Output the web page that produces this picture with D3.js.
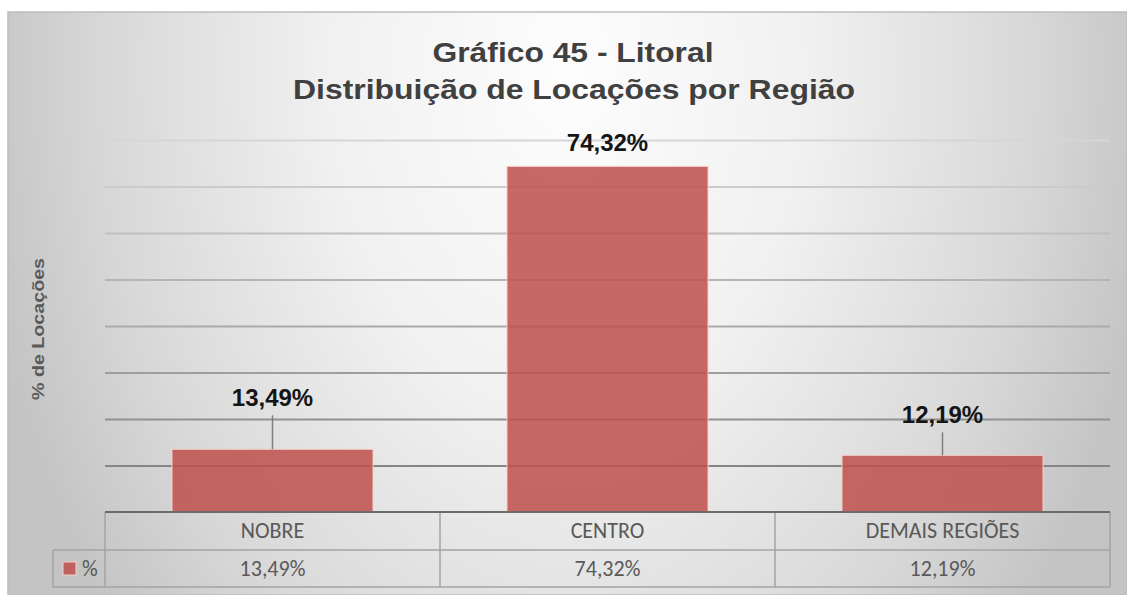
<!DOCTYPE html>
<html lang="pt-BR">
<head>
<meta charset="utf-8">
<title>Gráfico 45 - Litoral</title>
<script src="https://cdn.jsdelivr.net/npm/d3@7"></script>
<style>
  html, body { margin: 0; padding: 0; background: #ffffff; }
  svg { display: block; }
</style>
</head>
<body>
<div id="chart"></div>
<script>
// Chart data
const categories = ["NOBRE", "CENTRO", "DEMAIS REGIÕES"];
const values = [13.49, 74.32, 12.19];
const seriesName = "%";
const yTicks = [0, 10, 20, 30, 40, 50, 60, 70, 80];
const titleLines = ["Gráfico 45 - Litoral", "Distribuição de Locações por Região"];
const yAxisTitle = "% de Locações";

// Layout
const W = 1127, H = 595;
const frame = { x: 8, y: 12, w: W - 8, h: H - 12 };
const plot = { left: 105, right: 1110, top: 140, bottom: 512 };
const tableRows = { header: [512, 550], values: [550, 587] };
const legendCellLeft = 53;
// distance from the top of each bar to the baseline of its value label
const labelGap = [43, 15, 32];

const ptBR = d3.formatLocale({ decimal: ",", thousands: ".", grouping: [3], currency: ["R$", ""] });
const fmt = v => ptBR.format(".2f")(v) + "%";

const svg = d3.select("#chart").append("svg")
  .attr("width", W).attr("height", H)
  .attr("viewBox", `0 0 ${W} ${H}`);

const defs = svg.append("defs");

// soft radial background, bright near the title and greyer toward the sides
const bg = defs.append("radialGradient")
  .attr("id", "bgGrad")
  .attr("cx", 0.5).attr("cy", 0.1).attr("r", 0.53)
  .attr("gradientTransform", "translate(0.5,0.1) scale(1,2.8) translate(-0.5,-0.1)");
[[0, "#fdfdfd"], [0.4, "#f1f1f1"], [0.78, "#d8d8d8"], [1, "#c4c4c4"]]
  .forEach(([o, c]) => bg.append("stop").attr("offset", o).attr("stop-color", c));

svg.append("rect")
  .attr("x", frame.x).attr("y", frame.y)
  .attr("width", frame.w).attr("height", frame.h)
  .attr("fill", "url(#bgGrad)")
  .attr("stroke", "#bdbdbd").attr("stroke-width", 1.5);

// Scales
const x = d3.scaleBand()
  .domain(categories)
  .range([plot.left, plot.right])
  .paddingInner(0.4)
  .paddingOuter(0.2);

const xCol = d3.scaleBand()
  .domain(categories)
  .range([plot.left, plot.right])
  .padding(0);

const y = d3.scaleLinear()
  .domain([0, d3.max(yTicks)])
  .range([plot.bottom, plot.top]);

// gridlines fade from light at the top to darker grey near the axis
const gridColor = d3.scaleLinear()
  .domain([plot.top, (plot.top + plot.bottom) / 2, plot.bottom - 47])
  .range(["#d6d6d6", "#aaaaaa", "#858585"])
  .clamp(true);

const yAxis = d3.axisLeft(y)
  .tickValues(yTicks.filter(t => t > 0))
  .tickSize(-(plot.right - plot.left))
  .tickFormat("");

const gGrid = svg.append("g")
  .attr("transform", `translate(${plot.left},0)`)
  .call(yAxis);
gGrid.select(".domain").remove();
gGrid.selectAll(".tick line")
  .attr("stroke", d => gridColor(y(d)))
  .attr("stroke-width", 2);

// Bars
svg.append("g").selectAll("rect")
  .data(values)
  .join("rect")
  .attr("x", (d, i) => x(categories[i]))
  .attr("y", d => y(d))
  .attr("width", x.bandwidth())
  .attr("height", d => y(0) - y(d))
  .attr("fill", "#c0504d")
  .attr("fill-opacity", 0.86)
  .attr("stroke", "#f3cfcc")
  .attr("stroke-width", 1);

// Value labels with leader lines where the label sits away from the bar
const labels = svg.append("g");
values.forEach((v, i) => {
  const cx = x(categories[i]) + x.bandwidth() / 2;
  const top = y(v);
  const base = top - labelGap[i];
  if (labelGap[i] > 20) {
    labels.append("line")
      .attr("x1", cx).attr("x2", cx)
      .attr("y1", base + 9).attr("y2", top)
      .attr("stroke", "#7f7f7f").attr("stroke-width", 1.5);
  }
  labels.append("text")
    .attr("x", cx).attr("y", base)
    .attr("text-anchor", "middle")
    .attr("font-family", "Arial, 'Liberation Sans', sans-serif")
    .attr("font-weight", "bold")
    .attr("font-size", 24)
    .attr("fill", "#151515")
    .text(fmt(v));
});

// Title
const title = svg.append("g")
  .attr("font-family", "Arial, 'Liberation Sans', sans-serif")
  .attr("font-weight", "bold")
  .attr("font-size", 28)
  .attr("fill", "#404040")
  .attr("text-anchor", "middle");
title.append("text").attr("x", 573).attr("y", 62)
  .attr("textLength", 281).attr("lengthAdjust", "spacingAndGlyphs")
  .text(titleLines[0]);
title.append("text").attr("x", 574).attr("y", 99)
  .attr("textLength", 562).attr("lengthAdjust", "spacingAndGlyphs")
  .text(titleLines[1]);

// Y axis title
svg.append("text")
  .attr("transform", `translate(44,329) rotate(-90)`)
  .attr("text-anchor", "middle")
  .attr("font-family", "Arial, 'Liberation Sans', sans-serif")
  .attr("font-weight", "bold")
  .attr("font-size", 17)
  .attr("fill", "#5a5a5a")
  .attr("textLength", 142).attr("lengthAdjust", "spacingAndGlyphs")
  .text(yAxisTitle);

// Data table under the plot
const table = svg.append("g");
const gridStroke = "#a3a3a3";

table.append("line")
  .attr("x1", legendCellLeft).attr("x2", plot.right)
  .attr("y1", tableRows.header[1]).attr("y2", tableRows.header[1])
  .attr("stroke", gridStroke).attr("stroke-width", 1.5);
table.append("line")
  .attr("x1", legendCellLeft).attr("x2", plot.right)
  .attr("y1", tableRows.values[1]).attr("y2", tableRows.values[1])
  .attr("stroke", gridStroke).attr("stroke-width", 1.5);
table.append("line")
  .attr("x1", legendCellLeft).attr("x2", legendCellLeft)
  .attr("y1", tableRows.values[0]).attr("y2", tableRows.values[1])
  .attr("stroke", gridStroke).attr("stroke-width", 1.5);

// column separators
const colEdges = categories.map(c => xCol(c)).concat([plot.right]);
table.selectAll("line.col")
  .data(colEdges)
  .join("line")
  .attr("class", "col")
  .attr("x1", d => d).attr("x2", d => d)
  .attr("y1", tableRows.header[0]).attr("y2", tableRows.values[1])
  .attr("stroke", gridStroke).attr("stroke-width", 1.5);

// category axis line
svg.append("line")
  .attr("x1", plot.left).attr("x2", plot.right)
  .attr("y1", plot.bottom).attr("y2", plot.bottom)
  .attr("stroke", "#6b6b6b").attr("stroke-width", 2);

const tableFont = "Carlito, Lato, 'Open Sans', sans-serif";
const tableSize = 22;
table.selectAll("text.cat")
  .data(categories)
  .join("text")
  .attr("class", "cat")
  .attr("x", d => xCol(d) + xCol.bandwidth() / 2)
  .attr("y", (tableRows.header[0] + tableRows.header[1]) / 2 + 7)
  .attr("text-anchor", "middle")
  .attr("font-family", tableFont)
  .attr("font-size", tableSize)
  .attr("fill", "#595959")
  .text(d => d);

table.selectAll("text.val")
  .data(values)
  .join("text")
  .attr("class", "val")
  .attr("x", (d, i) => xCol(categories[i]) + xCol.bandwidth() / 2)
  .attr("y", (tableRows.values[0] + tableRows.values[1]) / 2 + 7)
  .attr("text-anchor", "middle")
  .attr("font-family", tableFont)
  .attr("font-size", tableSize)
  .attr("fill", "#595959")
  .text(d => fmt(d));

// legend key in the table
table.append("rect")
  .attr("x", 63).attr("y", 562)
  .attr("width", 13).attr("height", 13)
  .attr("fill", "#c0504d").attr("fill-opacity", 0.86)
  .attr("stroke", "#f3cfcc").attr("stroke-width", 1);
table.append("text")
  .attr("x", 82)
  .attr("y", (tableRows.values[0] + tableRows.values[1]) / 2 + 7)
  .attr("font-family", tableFont)
  .attr("font-size", tableSize)
  .attr("fill", "#595959")
  .text(seriesName);
</script>
</body>
</html>
